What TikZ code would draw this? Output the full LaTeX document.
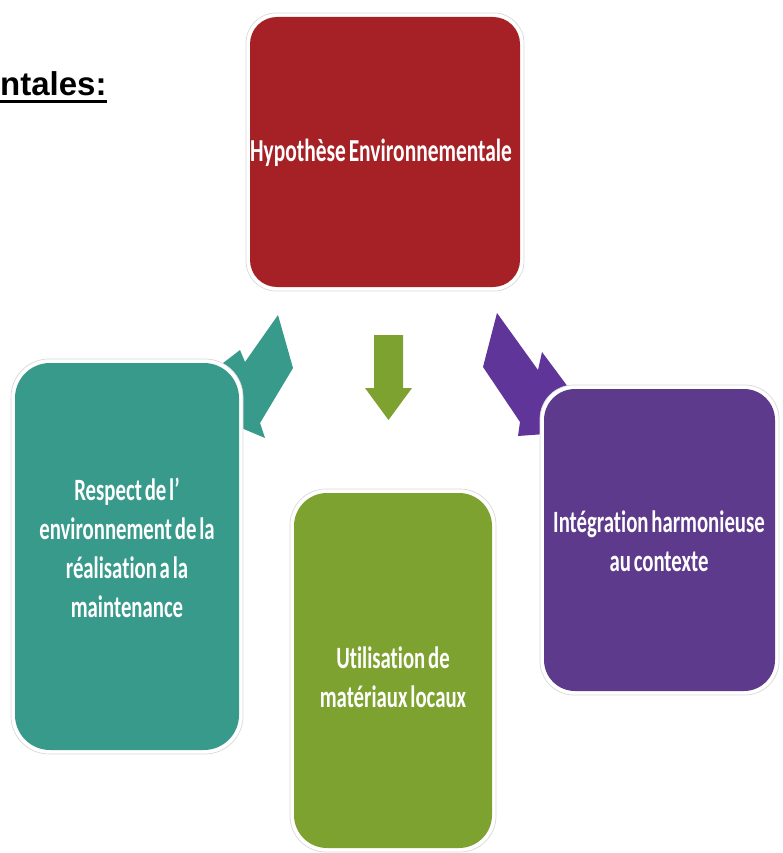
\documentclass[tikz,border=0pt]{standalone}
\usepackage{fontspec}
\newfontfamily\boxfont[FakeStretch=0.67, WordSpace=0.6, Ligatures=NoCommon]{Carlito}
\newfontfamily\titlefont{Liberation Sans}
\definecolor{cred}{HTML}{A62126}
\definecolor{cteal}{HTML}{379A8B}
\definecolor{cgreen}{HTML}{7EA22F}
\definecolor{cpurple}{HTML}{5D3A8C}
\definecolor{apurple}{HTML}{60359A}
\tikzset{
  frame/.style={fill=white, draw=gray!30, line width=0.7pt, rounded corners=30pt},
  inner/.style={rounded corners=27pt},
  lbl/.style={align=center, text=white, font=\boxfont\bfseries\fontsize{31}{39}\selectfont, inner sep=0pt},
  arr/.style={draw=none}
}
\begin{document}
\begin{tikzpicture}[x=1pt,y=-1pt]
\useasboundingbox (0,0) rectangle (782,853);
% title fragment
\node[anchor=base west, inner sep=0pt, font=\titlefont\bfseries\fontsize{33}{36}\selectfont] (title) at (0,96) {ntales:};
\draw[line width=3pt] (title.base west) ++(0,6) coordinate (ul1) -- (ul1 -| title.base east);
% arrows (drawn first, boxes overlap them)
\fill[cteal] (278,315) -- (293,368) -- (260,423) -- (265,438) -- (175,400) -- (240,350) -- (245,362) -- cycle;
\fill[cgreen] (374,335) -- (403,335) -- (403,388) -- (412,388) -- (388.5,420) -- (365,388) -- (374,388) -- cycle;
\fill[apurple] (497,313) -- (483,367) -- (520,422) -- (518,436) -- (600,430) -- (542,352) -- (538,370) -- cycle;
% boxes
\draw[frame] (246,13) rectangle (524,291);
\fill[cred, inner] (250,17) rectangle (520,287);
\node[lbl, font=\boxfont\bfseries\fontsize{32}{40}\selectfont] (hyp) at (381,153) {Hypothèse Environnementale};

\draw[frame, rounded corners=38pt] (11,359) rectangle (243,754);
\fill[cteal, rounded corners=35pt] (15,363) rectangle (239,750);
\node[lbl] (resp) at (127,548) {Respect de l’\\environnement de la\\réalisation a la\\maintenance};

\draw[frame, rounded corners=36pt] (290,489) rectangle (496,852);
\fill[cgreen, rounded corners=33pt] (294,493) rectangle (492,848);
\node[lbl] (util) at (393,677) {Utilisation de\\matériaux locaux};

\draw[frame, rounded corners=34pt] (540,385) rectangle (779,695);
\fill[cpurple, rounded corners=31pt] (544,389) rectangle (775,691);
\node[lbl] (integ) at (659,541) {Intégration harmonieuse\\au contexte};
\end{tikzpicture}
\end{document}
